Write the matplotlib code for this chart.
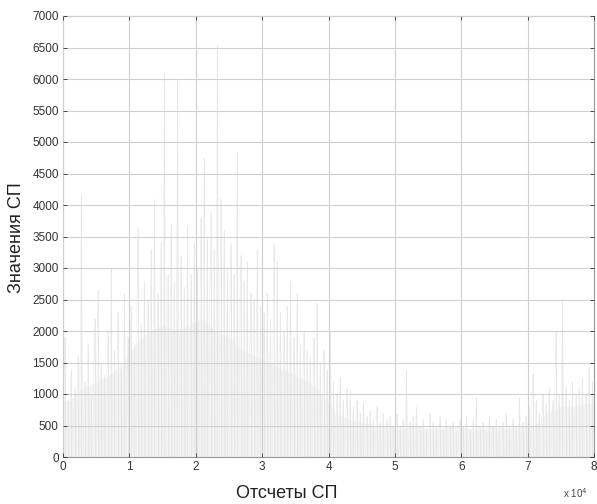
import matplotlib
matplotlib.use("Agg")
import matplotlib.pyplot as plt
import numpy as np

plt.rcParams['font.family'] = ['Liberation Sans Narrow', 'Liberation Sans', 'DejaVu Sans']

# Peak values of the signal per 500-sample block
peaks = [
    1900, 900, 1400, 1100, 1600, 4150, 1200, 1800, 1000, 2200, 2650, 1500, 1300, 2000, 3000, 1700, 2300, 1400, 2600, 1900,
    2400, 1800, 3650, 2100, 2800, 2500, 3300, 4100, 2600, 3400, 6100, 2900, 3700, 2800, 6000, 3200, 2700, 3650, 2900, 3400,
    3000, 3800, 4750, 3500, 3900, 3300, 6550, 4100, 3600, 3000, 3400, 2900, 4850, 3200, 2800, 3100, 2600, 2500, 3300, 2400,
    2300, 2600, 2200, 3400, 3100, 2300, 2000, 2400, 2800, 1900, 2600, 1800, 2000, 1700, 1600, 1900, 2450, 1500, 1700, 1400,
    2000, 1200, 1000, 1270, 900, 1100, 1060, 800, 900, 700, 850, 650, 750, 600, 800, 550, 700, 600, 650, 500,
    700, 500, 600, 1380, 550, 650, 800, 500, 600, 450, 700, 550, 500, 650, 450, 600, 500, 550, 400, 600,
    500, 650, 450, 600, 950, 500, 550, 400, 650, 500, 600, 450, 550, 700, 500, 600, 450, 950, 550, 650,
    800, 1330, 900, 700, 1000, 850, 1100, 900, 2000, 1000, 2500, 1100, 900, 1200, 1000, 1100, 1250, 1000, 1430, 1200,
]
block = 500
# Dense body level of the signal per 2000-sample block
body = [
    900, 1100, 1200, 1300, 1500, 1800, 2000, 2100, 2000, 2100,
    2200, 2000, 1900, 1700, 1600, 1500, 1400, 1300, 1200, 1000,
    700, 600, 550, 500, 500, 450, 500, 450, 450, 500,
    450, 450, 500, 450, 500, 500, 700, 800, 800, 850,
]
body_block = 2000

x_ticks = [0, 1, 2, 3, 4, 5, 6, 7, 8]
y_ticks = [0, 500, 1000, 1500, 2000, 2500, 3000, 3500, 4000, 4500, 5000, 5500, 6000, 6500, 7000]

fig = plt.figure(figsize=(5.97, 5.04), dpi=100)
ax = fig.add_axes([63/597, 47/504, 531/597, 441/504])

# dense body
bx = np.arange(len(body)) * body_block + body_block / 2
bx = np.concatenate([[0], bx, [80000]])
by = np.concatenate([[body[0]], body, [body[-1]]])
ax.fill_between(bx, 0, by, color='#f4f4f4', lw=0, zorder=1)

# signal peaks drawn as thin vertical strokes joined by a faint trace
n = len(peaks)
px = np.arange(n) * block + block / 2
xs = np.empty(2 * n + 1)
ys = np.zeros(2 * n + 1)
xs[0::2] = np.arange(n + 1) * block
xs[1::2] = px
ys[1::2] = peaks
ax.plot(xs, ys, color='#efefef', lw=0.5, zorder=2)
ax.vlines(px, 0, peaks, color='#e6e6e6', lw=0.6, zorder=2)

ax.set_xlim(0, 80000)
ax.set_ylim(0, 7000)
ax.set_xticks([t * 1e4 for t in x_ticks])
ax.set_xticklabels([str(t) for t in x_ticks])
ax.set_yticks(y_ticks)
ax.set_yticklabels([str(t) for t in y_ticks])
ax.set_axisbelow(False)
ax.grid(True, color='#d0d0d0', lw=0.8, zorder=3)
ax.tick_params(direction='in', top=True, right=True, length=3, width=0.6,
               labelsize=8.5, colors='#333333', pad=3)
for s in ax.spines.values():
    s.set_color('#999999')
    s.set_linewidth(0.8)

fig.text(287/597, 1 - 493/504, 'Отсчеты СП', ha='center', va='center', fontsize=13, color='#222222')
fig.text(17/597, 1 - 238/504, 'Значения СП', ha='center', va='center', rotation=90, fontsize=13, color='#222222')
fig.text(575/597, 1 - 493/504, r'x 10$^{4}$', ha='center', va='center', fontsize=7, color='#444444')

fig.savefig('out.png', dpi=100)
